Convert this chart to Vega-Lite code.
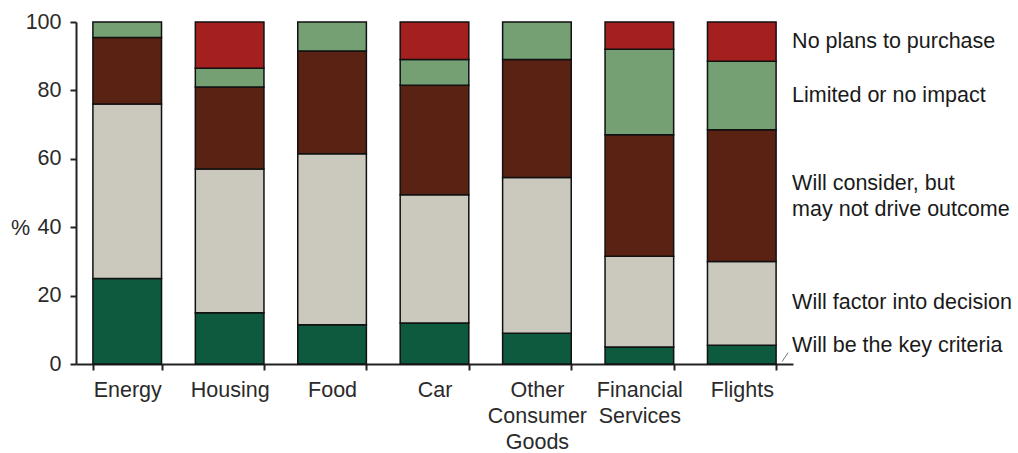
{
  "$schema": "https://vega.github.io/schema/vega-lite/v6.json",
  "autosize": {"type": "none"},
  "padding": {"left": 76, "top": 22, "right": 225, "bottom": 89},
  "width": 717,
  "height": 342,
  "background": "white",
  "config": {
    "view": {"stroke": null},
    "font": "Liberation Sans",
    "text": {"font": "Liberation Sans"}
  },
  "data": {
    "values": [
      {"category": "Energy", "segment": "Will be the key criteria", "rank": 1, "value": 25},
      {"category": "Energy", "segment": "Will factor into decision", "rank": 2, "value": 51},
      {"category": "Energy", "segment": "Will consider, but may not drive outcome", "rank": 3, "value": 19.5},
      {"category": "Energy", "segment": "Limited or no impact", "rank": 4, "value": 4.5},
      {"category": "Housing", "segment": "Will be the key criteria", "rank": 1, "value": 15},
      {"category": "Housing", "segment": "Will factor into decision", "rank": 2, "value": 42},
      {"category": "Housing", "segment": "Will consider, but may not drive outcome", "rank": 3, "value": 24},
      {"category": "Housing", "segment": "Limited or no impact", "rank": 4, "value": 5.5},
      {"category": "Housing", "segment": "No plans to purchase", "rank": 5, "value": 13.5},
      {"category": "Food", "segment": "Will be the key criteria", "rank": 1, "value": 11.5},
      {"category": "Food", "segment": "Will factor into decision", "rank": 2, "value": 50},
      {"category": "Food", "segment": "Will consider, but may not drive outcome", "rank": 3, "value": 30},
      {"category": "Food", "segment": "Limited or no impact", "rank": 4, "value": 8.5},
      {"category": "Car", "segment": "Will be the key criteria", "rank": 1, "value": 12},
      {"category": "Car", "segment": "Will factor into decision", "rank": 2, "value": 37.5},
      {"category": "Car", "segment": "Will consider, but may not drive outcome", "rank": 3, "value": 32},
      {"category": "Car", "segment": "Limited or no impact", "rank": 4, "value": 7.5},
      {"category": "Car", "segment": "No plans to purchase", "rank": 5, "value": 11},
      {"category": "Other Consumer Goods", "segment": "Will be the key criteria", "rank": 1, "value": 9},
      {"category": "Other Consumer Goods", "segment": "Will factor into decision", "rank": 2, "value": 45.5},
      {"category": "Other Consumer Goods", "segment": "Will consider, but may not drive outcome", "rank": 3, "value": 34.5},
      {"category": "Other Consumer Goods", "segment": "Limited or no impact", "rank": 4, "value": 11},
      {"category": "Financial Services", "segment": "Will be the key criteria", "rank": 1, "value": 5},
      {"category": "Financial Services", "segment": "Will factor into decision", "rank": 2, "value": 26.5},
      {"category": "Financial Services", "segment": "Will consider, but may not drive outcome", "rank": 3, "value": 35.5},
      {"category": "Financial Services", "segment": "Limited or no impact", "rank": 4, "value": 25},
      {"category": "Financial Services", "segment": "No plans to purchase", "rank": 5, "value": 8},
      {"category": "Flights", "segment": "Will be the key criteria", "rank": 1, "value": 5.5},
      {"category": "Flights", "segment": "Will factor into decision", "rank": 2, "value": 24.5},
      {"category": "Flights", "segment": "Will consider, but may not drive outcome", "rank": 3, "value": 38.5},
      {"category": "Flights", "segment": "Limited or no impact", "rank": 4, "value": 20},
      {"category": "Flights", "segment": "No plans to purchase", "rank": 5, "value": 11.5}
    ]
  },
  "encoding": {
    "x": {
      "field": "category",
      "type": "nominal",
      "sort": ["Energy", "Housing", "Food", "Car", "Other Consumer Goods", "Financial Services", "Flights"],
      "scale": {"paddingInner": 0.33, "paddingOuter": 0.165},
      "axis": {
        "title": null,
        "labelAngle": 0,
        "labelFontSize": 21.5,
        "labelColor": "#2a2a2a",
        "labelFont": "Liberation Sans",
        "labelPadding": 9,
        "labelLineHeight": 26,
        "labelExpr": "datum.value == 'Other Consumer Goods' ? ['Other', 'Consumer', 'Goods'] : datum.value == 'Financial Services' ? ['Financial', 'Services'] : datum.value",
        "tickBand": "extent",
        "tickColor": "#222222",
        "tickWidth": 2,
        "tickSize": 6,
        "domainColor": "#222222",
        "domainWidth": 2
      }
    }
  },
  "layer": [
    {
      "mark": {"type": "bar", "stroke": "#111111", "strokeWidth": 1.5},
      "encoding": {
        "y": {
          "field": "value",
          "type": "quantitative",
          "stack": "zero",
          "scale": {"domain": [0, 100], "nice": false},
          "axis": {
            "values": [0, 20, 40, 60, 80, 100],
            "grid": false,
            "title": "%",
            "titleAngle": 0,
            "titleFontSize": 21.5,
            "titleFontWeight": "normal",
            "titleFont": "Liberation Sans",
            "titleColor": "#2a2a2a",
            "titleX": -56,
            "titleY": 206,
            "titleAlign": "center",
            "titleBaseline": "middle",
            "labelFontSize": 21.5,
            "labelColor": "#2a2a2a",
            "labelFont": "Liberation Sans",
            "labelPadding": 9,
            "tickColor": "#222222",
            "tickWidth": 2,
            "tickSize": 6,
            "domainColor": "#222222",
            "domainWidth": 2
          }
        },
        "color": {
          "field": "segment",
          "type": "nominal",
          "scale": {
            "domain": ["Will be the key criteria", "Will factor into decision", "Will consider, but may not drive outcome", "Limited or no impact", "No plans to purchase"],
            "range": ["#0e5a3f", "#cbc9be", "#5a2212", "#74a074", "#a3201f"]
          },
          "legend": null
        },
        "order": {"field": "rank", "type": "quantitative"}
      }
    },
    {
      "transform": [
        {"filter": "datum.category == 'Flights'"},
        {"stack": "value", "groupby": ["category"], "sort": [{"field": "rank"}], "as": ["v0", "v1"]},
        {"filter": "datum.rank == 2 || datum.rank > 3"},
        {"calculate": "(datum.v0 + datum.v1) / 2", "as": "mid"}
      ],
      "mark": {"type": "text", "align": "left", "baseline": "middle", "dx": 16, "fontSize": 21.5, "color": "#1a1a1a", "font": "Liberation Sans"},
      "encoding": {
        "x": {"field": "category", "type": "nominal", "bandPosition": 1, "sort": ["Energy", "Housing", "Food", "Car", "Other Consumer Goods", "Financial Services", "Flights"]},
        "y": {"field": "mid", "type": "quantitative"},
        "text": {"field": "segment"}
      }
    },
    {
      "transform": [
        {"filter": "datum.category == 'Flights'"},
        {"stack": "value", "groupby": ["category"], "sort": [{"field": "rank"}], "as": ["v0", "v1"]},
        {"filter": "datum.rank == 3"},
        {"calculate": "(datum.v0 + datum.v1) / 2", "as": "mid"},
        {"calculate": "['Will consider, but', 'may not drive outcome']", "as": "lbl"}
      ],
      "mark": {"type": "text", "align": "left", "baseline": "middle", "dx": 16, "dy": -12, "fontSize": 21.5, "lineHeight": 26, "color": "#1a1a1a", "font": "Liberation Sans"},
      "encoding": {
        "x": {"field": "category", "type": "nominal", "bandPosition": 1, "sort": ["Energy", "Housing", "Food", "Car", "Other Consumer Goods", "Financial Services", "Flights"]},
        "y": {"field": "mid", "type": "quantitative"},
        "text": {"field": "lbl"}
      }
    },
    {
      "transform": [
        {"filter": "datum.category == 'Flights' && datum.rank == 1"},
        {"calculate": "datum.value / 2", "as": "mid"}
      ],
      "mark": {"type": "text", "align": "left", "baseline": "middle", "dx": 16, "dy": -9, "fontSize": 21.5, "color": "#1a1a1a", "font": "Liberation Sans"},
      "encoding": {
        "x": {"field": "category", "type": "nominal", "bandPosition": 1, "sort": ["Energy", "Housing", "Food", "Car", "Other Consumer Goods", "Financial Services", "Flights"]},
        "y": {"field": "mid", "type": "quantitative"},
        "text": {"field": "segment"}
      }
    },
    {
      "transform": [
        {"filter": "datum.category == 'Flights' && datum.rank == 1"},
        {"calculate": "datum.value / 2", "as": "mid"}
      ],
      "mark": {"type": "rule", "color": "#777777", "strokeWidth": 1, "xOffset": 6, "x2Offset": 12, "yOffset": 7, "y2Offset": -2},
      "encoding": {
        "x": {"field": "category", "type": "nominal", "bandPosition": 1, "sort": ["Energy", "Housing", "Food", "Car", "Other Consumer Goods", "Financial Services", "Flights"]},
        "x2": {"field": "category", "bandPosition": 1},
        "y": {"field": "mid", "type": "quantitative"},
        "y2": {"field": "mid"}
      }
    }
  ]
}
